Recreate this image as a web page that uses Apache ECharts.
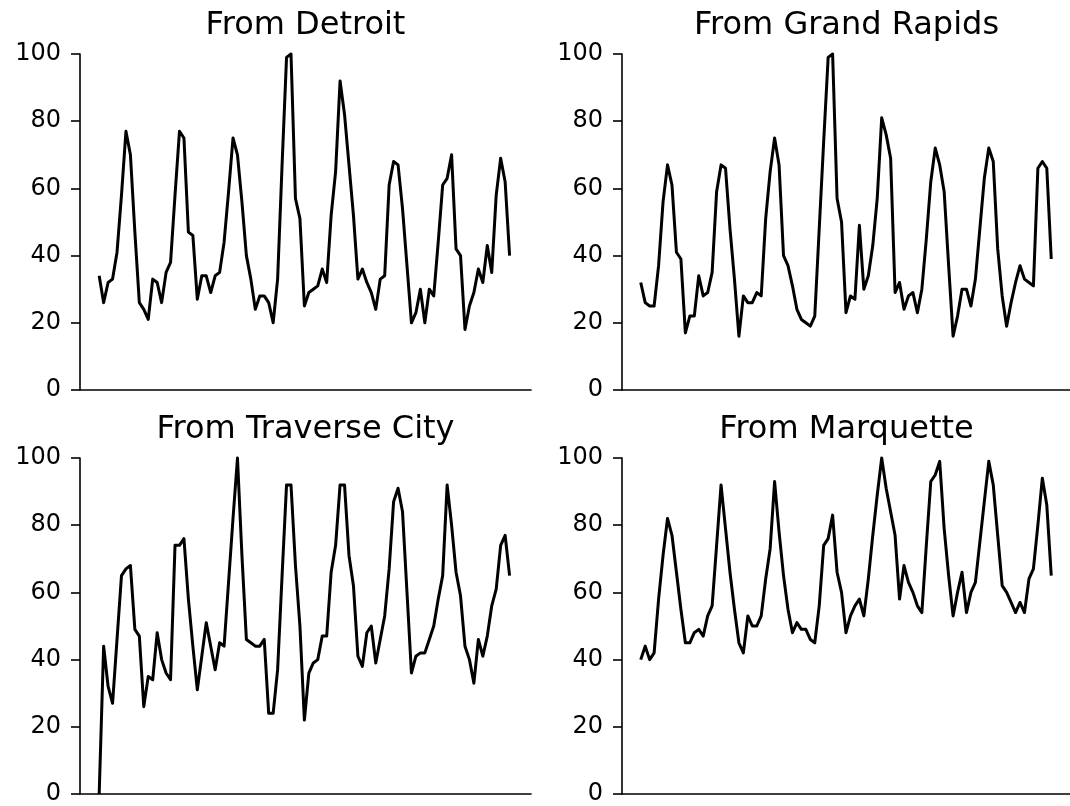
<!DOCTYPE html>
<html>
<head>
<meta charset="utf-8">
<script src="https://cdn.jsdelivr.net/npm/echarts@6/dist/echarts.min.js"></script>
<style>
html,body{margin:0;padding:0;background:#fff;}
#chart{width:1070px;height:806px;}
</style>
</head>
<body>
<div id="chart"></div>
<script>
var titles = ['From Detroit', 'From Grand Rapids', 'From Traverse City', 'From Marquette'];
var yTicks = [0, 20, 40, 60, 80, 100];

var detroit = [34,26,32,33,41,58,77,70,47,26,24,21,
  33,32,26,35,38,58,77,75,47,46,27,34,
  34,29,34,35,44,59,75,70,56,40,33,24,
  28,28,26,20,33,67,99,100,57,51,25,29,
  30,31,36,32,52,65,92,82,67,52,33,36,
  32,29,24,33,34,61,68,67,54,37,20,23,
  30,20,30,28,44,61,63,70,42,40,18,25,
  29,36,32,43,35,58,69,62,40];

var grandRapids = [32,26,25,25,37,56,67,61,41,39,17,22,
  22,34,28,29,35,59,67,66,48,33,16,28,
  26,26,29,28,51,65,75,67,40,37,31,24,
  21,20,19,22,48,74,99,100,57,50,23,28,
  27,49,30,34,43,57,81,76,69,29,32,24,
  28,29,23,30,45,62,72,67,59,37,16,22,
  30,30,25,33,48,63,72,68,42,28,19,26,
  32,37,33,32,31,66,68,66,39];

var traverseCity = [0,44,32,27,46,65,67,68,49,47,26,35,
  34,48,40,36,34,74,74,76,58,44,31,41,
  51,44,37,45,44,63,82,100,71,46,45,44,
  44,46,24,24,37,65,92,92,68,50,22,36,
  39,40,47,47,66,74,92,92,71,62,41,38,
  48,50,39,46,53,67,87,91,84,60,36,41,
  42,42,46,50,58,65,92,80,66,59,44,40,
  33,46,41,47,56,61,74,77,65];

var marquette = [40,44,40,42,58,71,82,77,66,55,45,45,
  48,49,47,53,56,74,92,79,66,55,45,42,
  53,50,50,53,64,73,93,78,65,55,48,51,
  49,49,46,45,56,74,76,83,66,60,48,53,
  56,58,53,64,77,89,100,91,84,77,58,68,
  63,60,56,54,74,93,95,99,79,65,53,60,
  66,54,60,63,75,87,99,92,77,62,60,57,
  54,57,54,64,67,80,94,86,65];

var seriesValues = [detroit, grandRapids, traverseCity, marquette];

var grids = [
  {left: 80, top: 54, width: 451, height: 336},
  {left: 622, top: 54, width: 449, height: 336},
  {left: 80, top: 458, width: 451, height: 336},
  {left: 622, top: 458, width: 449, height: 336}
];
var xRanges = [[-4.3, 96.8], [-4.2, 96.2], [-4.3, 96.8], [-4.2, 96.2]];
var titleTops = [10, 10, 414, 414];

var FONT = 'DejaVu Sans';
var option = {
  backgroundColor: '#ffffff',
  animation: false,
  title: titles.map(function (t, i) {
    return {
      text: t,
      left: grids[i].left + grids[i].width / 2,
      top: titleTops[i],
      textAlign: 'center',
      padding: 0,
      textStyle: {fontFamily: FONT, fontSize: 32, fontWeight: 'normal', color: '#000'}
    };
  }),
  grid: grids,
  xAxis: grids.map(function (g, i) {
    return {
      type: 'value', gridIndex: i, min: xRanges[i][0], max: xRanges[i][1],
      axisLine: {show: true, onZero: false, lineStyle: {color: '#000', width: 1.6}},
      axisTick: {show: false}, axisLabel: {show: false}, splitLine: {show: false}
    };
  }),
  yAxis: grids.map(function (g, i) {
    return {
      type: 'value', gridIndex: i, min: yTicks[0], max: yTicks[yTicks.length - 1], interval: 20,
      axisLine: {show: true, onZero: false, lineStyle: {color: '#000', width: 1.6}},
      axisTick: {show: true, length: 9, lineStyle: {color: '#000', width: 1.6}},
      axisLabel: {show: true, margin: 19, fontFamily: FONT, fontSize: 24, color: '#000'},
      splitLine: {show: false}
    };
  }),
  series: seriesValues.map(function (vals, i) {
    return {
      type: 'line', xAxisIndex: i, yAxisIndex: i,
      data: vals.map(function (v, k) { return [k, v]; }),
      showSymbol: false, symbol: 'none', clip: false,
      lineStyle: {color: '#000', width: 3, join: 'round'},
      emphasis: {disabled: true}
    };
  })
};

var chart = echarts.init(document.getElementById('chart'), null, {renderer: 'canvas'});
chart.setOption(option);
</script>
</body>
</html>
